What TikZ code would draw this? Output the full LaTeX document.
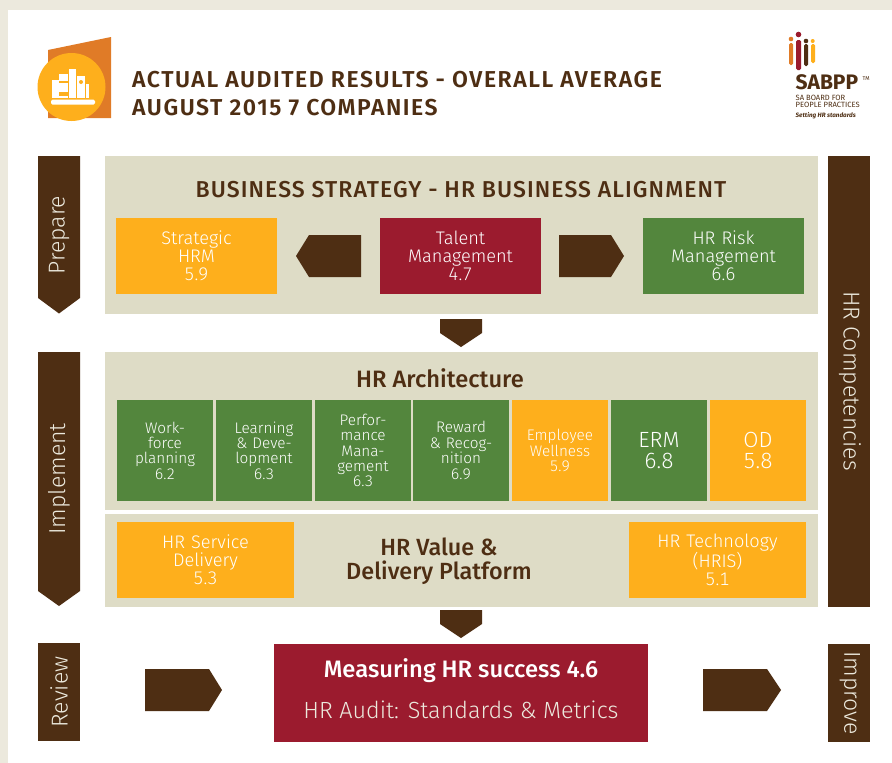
\documentclass[tikz,border=0pt]{standalone}
\usepackage{fontspec}
\setmainfont{Fira Sans}
\newfontfamily\lightf[Numbers=Monospaced]{Fira Sans Light}
\newfontfamily\medf{Fira Sans Medium}
\newfontfamily\titlef[LetterSpace=6.6]{Fira Sans SemiBold}
\newfontfamily\headf[LetterSpace=4.7]{Fira Sans Medium}
\definecolor{pagebg}{HTML}{ECE9DD}
\definecolor{brn}{HTML}{4E2E13}
\definecolor{panel}{HTML}{DEDCC6}
\definecolor{amber}{HTML}{FEAF1C}
\definecolor{grn}{HTML}{53863D}
\definecolor{crim}{HTML}{9B1B2E}
\definecolor{orng}{HTML}{E07B27}
\newcommand{\fsz}[2]{\fontsize{#1}{#2}\selectfont}
\tikzset{
  x=1pt,y=-1pt,
  boxbase/.style={inner sep=0pt,outer sep=0pt,text=white,align=center},
  shapearrow/.style={fill=brn,draw=none},
  bigtext/.style={boxbase,font=\lightf\fsz{18.2}{18}},
  smalltext/.style={boxbase,font=\lightf\fsz{15.3}{15.4}},
  hugetext/.style={boxbase,font=\lightf\fsz{22}{20.5}},
  sidetext/.style={inner sep=0pt,text=pagebg,font=\lightf\fsz{23}{24}},
  headtext/.style={inner sep=0pt,text=brn},
}
\newcommand{\cbox}[8]{% name, style, colour, x1,y1,x2,y2, text
  \pgfmathsetmacro{\boxw}{#6-#4}\pgfmathsetmacro{\boxh}{#7-#5}
  \node[#2,fill=#3,minimum width=\boxw pt,minimum height=\boxh pt,text width=\boxw pt,anchor=center] (#1) at ({(#4+#6)/2},{(#5+#7)/2}) {#8};}
\begin{document}
\begin{tikzpicture}
\useasboundingbox (0,0) rectangle (892,763);
\fill[pagebg] (0,0) rectangle (892,763);
\fill[white] (8,10) rectangle (892,763);
% emblem
\fill[orng] (48,50) -- (111,37) -- (111,118) -- (48,118) -- cycle;
\fill[amber] (71.5,87) circle (34);
\fill[white,rounded corners=1.5] (51,99.5) rectangle (95,104.5);
\fill[white] (52,80) rectangle (59,98);
\fill[white] (59,74) rectangle (68,81);
\fill[white] (59,83) rectangle (68,92);
\fill[white] (59,96) rectangle (68,98);
\fill[white] (69,69) rectangle (75.5,98);
\fill[white] (76.5,76) rectangle (85,98);
\fill[white] (85.5,84) rectangle (89,98);
\fill[amber] (81,82) circle (2);
% logo
\fill[orng,rounded corners=1.5] (789,43) rectangle (793,65);
\fill[orng] (791,39) circle (2.3);
\fill[crim,rounded corners=1.5] (796,40) rectangle (801,70);
\fill[crim] (798.5,34.5) circle (2.8);
\fill[brn,rounded corners=1.5] (804,44) rectangle (808,66);
\fill[brn] (806,41) circle (2.3);
\fill[amber,rounded corners=1.5] (811,44) rectangle (815,63);
\fill[amber] (812.7,41) circle (2);
\node[headtext,anchor=base west,font=\bfseries\fsz{21}{22}] (sabpp) at (795.5,89) {SABPP};
\node[headtext,anchor=base west,font=\fsz{5.5}{6}] (tm) at (862.5,80.5) {TM};
\node[headtext,anchor=base west,align=left,font=\fsz{7.6}{7.2}] (board1) at (795.5,100) {SA BOARD FOR};
\node[headtext,anchor=base west,align=left,font=\fsz{7.6}{7.2}] (board2) at (795.5,107) {PEOPLE PRACTICES};
\node[headtext,anchor=base west,font=\bfseries\itshape\fsz{6.3}{7}] (setting) at (795.5,117) {Setting HR standards};
% title
\node[headtext,anchor=base west,font=\titlef\fsz{23}{28}] (title1) at (132,87) {ACTUAL AUDITED RESULTS - OVERALL AVERAGE};
\node[headtext,anchor=base west,font=\titlef\fsz{23}{28}] (title2) at (132,115) {AUGUST 2015 7 COMPANIES};
% side bars
\fill[shapearrow] (38,156) -- (80,156) -- (80,298) -- (59,313.5) -- (38,298) -- cycle;
\node[sidetext,rotate=90] (prepare) at (59,235) {Prepare};
\fill[shapearrow] (38,352) -- (80,352) -- (80,591) -- (59,606) -- (38,591) -- cycle;
\node[sidetext,rotate=90] (implement) at (59,479) {Implement};
\fill[brn] (38,643) rectangle (80,741);
\node[sidetext,rotate=90] (review) at (59,692) {Review};
\fill[brn] (828,156) rectangle (870,607);
\node[sidetext,rotate=-90] (comp) at (850,381) {HR Competencies};
\fill[brn] (828,644) rectangle (870,742);
\node[sidetext,rotate=-90] (improve) at (850,693) {Improve};
% panels
\fill[panel] (105,156) rectangle (818,314);
\fill[panel] (105,352) rectangle (818,510);
\fill[panel] (105,514) rectangle (818,607);
\node[headtext,font=\headf\fsz{23}{26}] (bs) at (461,190) {BUSINESS STRATEGY - HR BUSINESS ALIGNMENT};
\node[headtext,font=\medf\fsz{23.7}{26}] (arch) at (440,378) {HR Architecture};
\node[headtext,align=center,font=\medf\fsz{23.4}{24}] (value) at (439,561.5) {HR Value \&\\Delivery Platform};
% top row
\cbox{strat}{bigtext}{amber}{116}{218}{277}{294}{Strategic\\HRM\\5.9}
\cbox{talent}{bigtext}{crim}{380}{218}{541}{294}{Talent\\Management\\4.7}
\cbox{risk}{bigtext}{grn}{643}{218}{804}{294}{HR Risk\\Management\\6.6}
\fill[shapearrow] (361,235) -- (361,277) -- (309,277) -- (296,256) -- (309,235) -- cycle;
\fill[shapearrow] (559,235) -- (559,277) -- (611,277) -- (624,256) -- (611,235) -- cycle;
\fill[shapearrow] (440,319) -- (482,319) -- (482,333) -- (461,347) -- (440,333) -- cycle;
% architecture row
\cbox{wf}{smalltext}{grn}{117}{400}{213}{501}{Work-\\force\\planning\\6.2}
\cbox{ld}{smalltext}{grn}{216}{400}{312}{501}{Learning\\\& Deve-\\lopment\\6.3}
\cbox{pm}{smalltext}{grn}{315}{400}{411}{501}{Perfor-\\mance\\Mana-\\gement\\6.3}
\cbox{rr}{smalltext}{grn}{413}{400}{509}{501}{Reward\\\& Recog-\\nition\\6.9}
\cbox{ew}{smalltext}{amber}{512}{400}{608}{501}{Employee\\Wellness\\5.9}
\cbox{erm}{hugetext}{grn}{611}{400}{707}{501}{ERM\\6.8}
\cbox{od}{hugetext}{amber}{710}{400}{806}{501}{OD\\5.8}
% platform row
\cbox{sd}{bigtext}{amber}{117}{522}{294}{598}{HR Service\\Delivery\\5.3}
\cbox{tech}{bigtext}{amber}{629}{522}{806}{598}{HR Technology\\(HRIS)\\5.1}
\fill[shapearrow] (440,610) -- (482,610) -- (482,624) -- (461,638) -- (440,624) -- cycle;
% measuring
\fill[crim] (274,644) rectangle (648,742);
\node[inner sep=0pt,text=white,font=\medf\fsz{23.8}{24}] (meas) at (461,671) {Measuring HR success 4.6};
\node[inner sep=0pt,text=pagebg,font=\lightf\fsz{23.4}{24}] (audit) at (461,710) {HR Audit: Standards \& Metrics};
\fill[shapearrow] (145,669) -- (209,669) -- (222,690) -- (209,711) -- (145,711) -- cycle;
\fill[shapearrow] (703,669) -- (767,669) -- (781,690) -- (767,711) -- (703,711) -- cycle;
\end{tikzpicture}
\end{document}
